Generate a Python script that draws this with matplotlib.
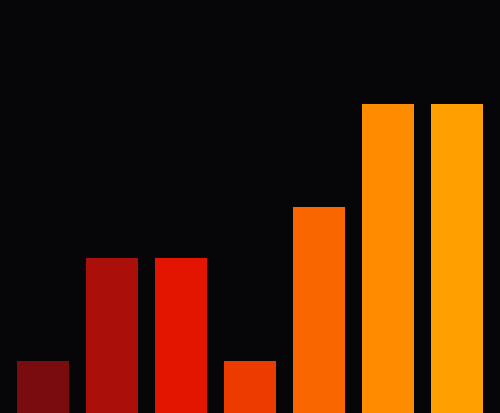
import matplotlib
matplotlib.use("Agg")
import matplotlib.pyplot as plt

# data
categories = ["a", "b", "c", "d", "e", "f", "g"]
values = [1, 3, 3, 1, 4, 6, 6]
colors = ["#7a0c10", "#ab0f0a", "#e31400", "#ed3b00", "#f96600", "#ff8c00", "#ffa000"]

fig = plt.figure(figsize=(5.0, 4.14), dpi=100, facecolor="#060508")
ax = fig.add_axes([0, 0, 1, 1])
ax.set_facecolor("#060508")

x = range(len(categories))
ax.bar(x, values, width=0.754, color=colors, linewidth=0)

ax.set_xlim(-0.623, len(categories) - 1 + 0.623)
ax.set_ylim(0, 8.03)
ax.axis("off")

fig.savefig("out.png", dpi=100, facecolor=fig.get_facecolor())
